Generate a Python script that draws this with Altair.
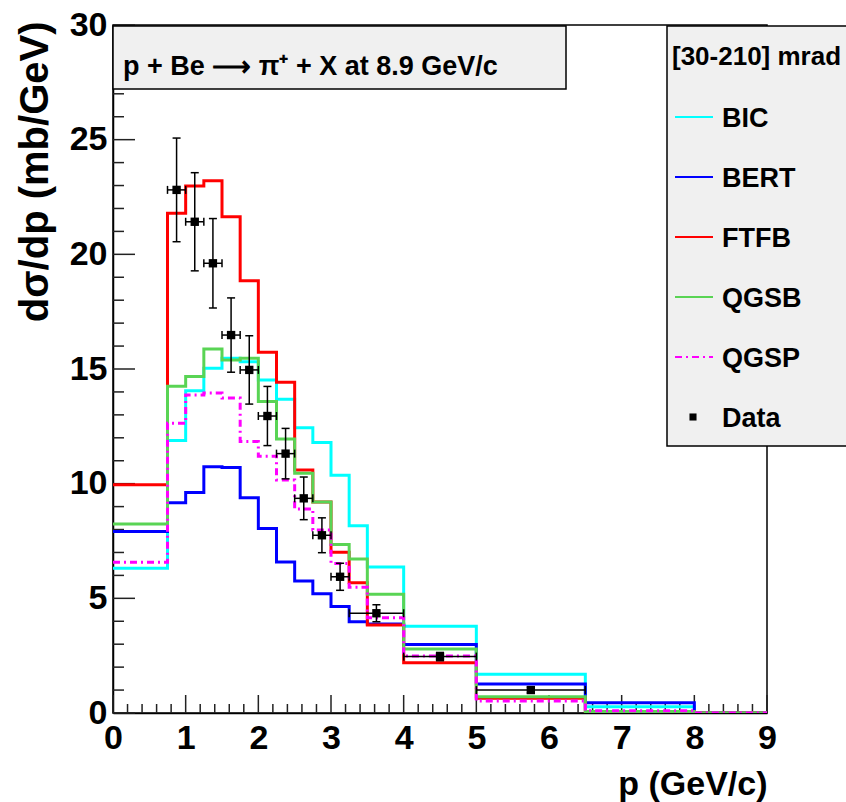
import altair as alt
import pandas as pd

# ---------------- data ----------------
edges = [0.0, 0.75, 1.0, 1.25, 1.5, 1.75, 2.0, 2.25, 2.5, 2.75, 3.0, 3.25, 3.5, 4.0, 5.0, 6.5, 8.0, 9.0]

bic  = [6.31, 11.88, 14.05, 15.03, 15.47, 15.32, 14.52, 13.68, 12.44, 11.79, 10.37, 8.16, 6.37, 3.78, 1.69, 0.27, 0.0]
bert = [7.91, 9.17, 9.61, 10.74, 10.70, 9.39, 8.05, 6.58, 5.76, 5.20, 4.64, 3.98, 3.88, 2.99, 1.26, 0.45, 0.0]
ftfb = [9.95, 21.79, 22.98, 23.21, 21.64, 18.85, 15.73, 14.42, 10.60, 9.20, 7.01, 5.68, 3.84, 2.19, 0.64, 0.05, 0.0]
qgsb = [8.24, 14.25, 14.67, 15.87, 15.39, 15.47, 13.58, 11.95, 10.45, 9.20, 7.35, 6.72, 5.18, 2.79, 0.71, 0.07, 0.0]
qgsp = [6.57, 12.63, 13.87, 13.95, 13.74, 11.84, 11.20, 10.16, 8.90, 7.98, 6.52, 5.48, 4.15, 2.49, 0.52, 0.10, 0.0]

series_names = ["BIC", "BERT", "FTFB", "QGSB", "QGSP"]
series_values = [bic, bert, ftfb, qgsb, qgsp]
series_colors = ["#00ffff", "#0000ff", "#ff0000", "#59d454", "#ff00ff"]
series_dash = [[1, 0], [1, 0], [1, 0], [1, 0], [7, 4, 2, 4]]

data_p   = [0.875, 1.125, 1.375, 1.625, 1.875, 2.125, 2.375, 2.625, 2.875, 3.125, 3.625, 4.5, 5.75]
data_plo = [0.75, 1.0, 1.25, 1.5, 1.75, 2.0, 2.25, 2.5, 2.75, 3.0, 3.25, 4.0, 5.0]
data_phi = [1.0, 1.25, 1.5, 1.75, 2.0, 2.25, 2.5, 2.75, 3.0, 3.25, 4.0, 5.0, 6.5]
data_y   = [22.81, 21.42, 19.61, 16.48, 14.96, 12.95, 11.31, 9.36, 7.75, 5.94, 4.35, 2.46, 1.00]
data_err = [2.26, 2.14, 1.95, 1.62, 1.49, 1.29, 1.10, 0.93, 0.76, 0.59, 0.37, 0.18, 0.12]

x_major = [0, 1, 2, 3, 4, 5, 6, 7, 8, 9]
y_major = [0, 5, 10, 15, 20, 25, 30]
x_minor = [round(i * 0.2, 2) for i in range(46) if i % 5 != 0]
y_minor = [i for i in range(31) if i % 5 != 0]

title_text = "p + Be \u27f6 \u03c0\u207a + X at 8.9 GeV/c"
legend_title = "[30-210] mrad"
x_title = "p (GeV/c)"
y_title = "d\u03c3/dp (mb/GeV)"

# ---------------- layout / style ----------------
FONT = "Liberation Sans"
W, H = 654, 688

x_scale = alt.Scale(domain=[0, 9], nice=False, zero=False)
y_scale = alt.Scale(domain=[0, 30], nice=False, zero=False)

x_axis = alt.Axis(values=x_major, ticks=False, grid=False, domainColor="black", domainWidth=1.5,
                  labelFont=FONT, labelFontSize=34, labelFontWeight="bold", labelColor="black",
                  labelPadding=8, labelFlush=False, labelBaseline="top", labelOverlap=False,
                  title=x_title, titleFont=FONT, titleFontSize=34, titleFontWeight="bold",
                  titleColor="black", titleX=W, titleY=81, titleAlign="right",
                  titleBaseline="alphabetic")
y_axis = alt.Axis(values=y_major, ticks=False, grid=False, domainColor="black", domainWidth=1.5,
                  labelFont=FONT, labelFontSize=34, labelFontWeight="bold", labelColor="black",
                  labelPadding=6, labelFlush=False, labelBaseline="middle", labelOverlap=False,
                  title=y_title, titleFont=FONT, titleFontSize=40, titleFontWeight="bold",
                  titleColor="black", titleAngle=270, titleX=-66, titleY=-4, titleAlign="right",
                  titleBaseline="alphabetic")


def X(field):
    return alt.X(field, type="quantitative", scale=x_scale, axis=x_axis)


def Y(field):
    return alt.Y(field, type="quantitative", scale=y_scale, axis=y_axis)


layers = []

# inward ticks (ROOT style)
layers.append(alt.Chart(pd.DataFrame({"t": y_major})).mark_rule(color="#222", strokeWidth=1.5)
              .encode(y=Y("t"), x=alt.value(0), x2=alt.value(22)))
layers.append(alt.Chart(pd.DataFrame({"t": y_minor})).mark_rule(color="#222", strokeWidth=1.5)
              .encode(y=Y("t"), x=alt.value(0), x2=alt.value(11)))
layers.append(alt.Chart(pd.DataFrame({"t": x_major})).mark_rule(color="#222", strokeWidth=1.5)
              .encode(x=X("t"), y=alt.value(H), y2=alt.value(H - 18)))
layers.append(alt.Chart(pd.DataFrame({"t": x_minor})).mark_rule(color="#222", strokeWidth=1.5)
              .encode(x=X("t"), y=alt.value(H), y2=alt.value(H - 9)))

# histograms
for name, vals, col, dash in zip(series_names, series_values, series_colors, series_dash):
    df = pd.DataFrame({"p": edges, "v": vals + [vals[-1]]})
    layers.append(alt.Chart(df).mark_line(interpolate="step-after", color=col, strokeWidth=3,
                                          strokeDash=dash, clip=True)
                  .encode(x=X("p"), y=Y("v")))

# data points
dd = pd.DataFrame({"p": data_p, "plo": data_plo, "phi": data_phi, "y": data_y,
                   "ylo": [a - b for a, b in zip(data_y, data_err)],
                   "yhi": [a + b for a, b in zip(data_y, data_err)]})
base = alt.Chart(dd)
layers.append(base.mark_rule(color="black", strokeWidth=1.5).encode(x=X("plo"), x2="phi", y=Y("y")))
layers.append(base.mark_rule(color="black", strokeWidth=1.5).encode(x=X("p"), y=Y("ylo"), y2="yhi"))
layers.append(base.mark_tick(orient="horizontal", size=8, thickness=1.5, color="black", opacity=1)
              .encode(x=X("p"), y=Y("ylo")))
layers.append(base.mark_tick(orient="horizontal", size=8, thickness=1.5, color="black", opacity=1)
              .encode(x=X("p"), y=Y("yhi")))
layers.append(base.mark_tick(orient="vertical", size=8, thickness=1.5, color="black", opacity=1)
              .encode(x=X("plo"), y=Y("y")))
layers.append(base.mark_tick(orient="vertical", size=8, thickness=1.5, color="black", opacity=1)
              .encode(x=X("phi"), y=Y("y")))
layers.append(base.mark_square(size=70, color="black", opacity=1).encode(x=X("p"), y=Y("y")))

one = pd.DataFrame({"a": [0]})

# title pave
layers.append(alt.Chart(one).mark_rect(fill="#f0f0f0", stroke="black", strokeWidth=1.5)
              .encode(x=alt.value(0), x2=alt.value(453), y=alt.value(1), y2=alt.value(64)))
layers.append(alt.Chart(one).mark_text(text=title_text, font=FONT, fontSize=27, fontWeight="bold",
                                       align="left", baseline="alphabetic", color="black")
              .encode(x=alt.value(10), y=alt.value(50)))

# legend pave
layers.append(alt.Chart(one).mark_rect(fill="#f0f0f0", stroke="black", strokeWidth=1.5)
              .encode(x=alt.value(554), x2=alt.value(745), y=alt.value(1), y2=alt.value(421)))
layers.append(alt.Chart(one).mark_text(text=legend_title, font=FONT, fontSize=26, fontWeight="bold",
                                       align="left", baseline="alphabetic", color="black")
              .encode(x=alt.value(559), y=alt.value(40)))

legend_labels = series_names + ["Data"]
for i, lab in enumerate(legend_labels):
    cy = 92 + 60 * i
    if i < len(series_names):
        layers.append(alt.Chart(one).mark_rule(color=series_colors[i], strokeWidth=2,
                                               strokeDash=series_dash[i])
                      .encode(x=alt.value(562), x2=alt.value(600), y=alt.value(cy)))
    else:
        layers.append(alt.Chart(one).mark_square(size=50, color="black", opacity=1)
                      .encode(x=alt.value(580), y=alt.value(cy)))
    layers.append(alt.Chart(one).mark_text(text=lab, font=FONT, fontSize=27, fontWeight="bold",
                                           align="left", baseline="alphabetic", color="black")
                  .encode(x=alt.value(609), y=alt.value(cy + 10)))

chart = alt.layer(*layers).properties(
    width=W, height=H,
    padding={"left": 113, "top": 25, "right": 79, "bottom": 89},
    autosize=alt.AutoSizeParams(type="none"),
    background="white",
).configure_view(stroke="black", strokeWidth=1.5)

chart.save("out.html", embed_options={"renderer": "svg", "actions": False})
